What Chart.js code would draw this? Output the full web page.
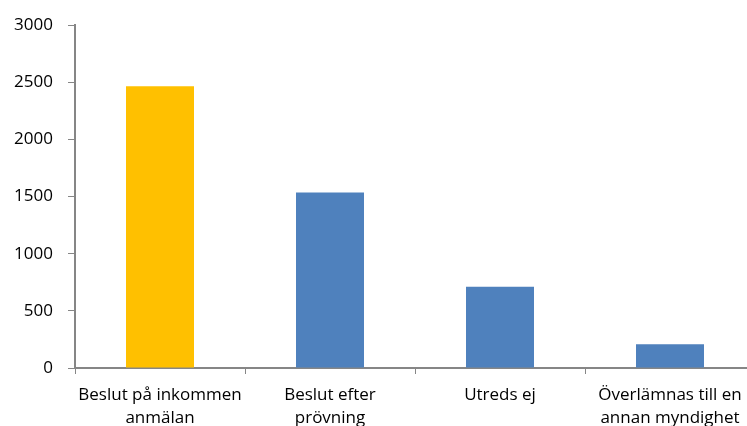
<!DOCTYPE html>
<html><head><meta charset="utf-8">
<script src="https://cdn.jsdelivr.net/npm/chart.js@4/dist/chart.umd.min.js"></script>
<style>
html,body{margin:0;padding:0;overflow:hidden;background:#fff;width:747px;height:426px}
#wrap{position:absolute;left:0;top:0;width:755px;height:460px}
</style></head><body>
<div id="wrap"><canvas id="c" width="755" height="460"></canvas></div>
<script>
const categories = [["Beslut på inkommen","anmälan"],["Beslut efter","prövning"],["Utreds ej"],["Överlämnas till en","annan myndighet"]];
const values = [2465, 1535, 712, 208];
const barColors = ["#FFC000", "#4F81BD", "#4F81BD", "#4F81BD"];
const yTicks = [0, 500, 1000, 1500, 2000, 2500, 3000];

const font = {family: "'Open Sans', sans-serif", size: 17, lineHeight: 1.35};
new Chart(document.getElementById('c'), {
  type: 'bar',
  data: {labels: categories, datasets: [{data: values, backgroundColor: barColors, borderWidth: 0, categoryPercentage: 1, barPercentage: 0.4}]},
  options: {
    responsive: false, animation: false, devicePixelRatio: 1,
    layout: {padding: {top: 24, left: 0, right: 0, bottom: 0}},
    plugins: {legend: {display: false}, tooltip: {enabled: false}},
    scales: {
      x: {
        grid: {display: true, drawOnChartArea: false, drawTicks: true, tickLength: 6, color: '#868686', offset: true},
        border: {display: true, color: '#868686', width: 2},
        ticks: {color: '#000', font: font, padding: 10, maxRotation: 0, autoSkip: false},
        afterFit: s => { s.height = 460 - 368; }
      },
      y: {
        min: 0, max: 3000,
        afterBuildTicks: s => { s.ticks = yTicks.map(v => ({value: v})); },
        grid: {display: true, drawOnChartArea: false, drawTicks: true, tickLength: 7, color: '#868686'},
        border: {display: true, color: '#868686', width: 2},
        ticks: {color: '#000', font: {family: "'Open Sans', sans-serif", size: 17}, padding: 15, callback: v => String(v)},
        afterFit: s => { s.width = 75; }
      }
    }
  }
});
</script></body></html>
